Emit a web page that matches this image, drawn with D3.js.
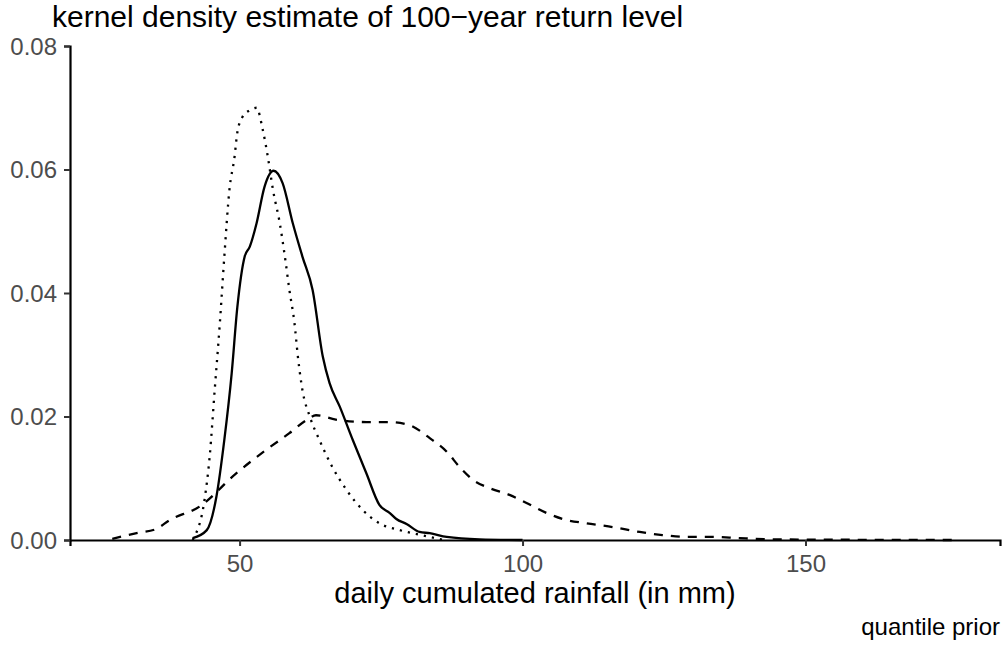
<!DOCTYPE html>
<html>
<head>
<meta charset="utf-8">
<script src="https://cdn.jsdelivr.net/npm/d3@7"></script>
<style>
  html, body { margin: 0; padding: 0; background: #fff; }
  text { font-family: "Liberation Sans", Arial, Helvetica, sans-serif; }
</style>
</head>
<body>
<svg id="chart" width="1006" height="650"></svg>
<script>
// Kernel density estimates of the 100-year return level (mm), one per prior.

const solidX = [41.7, 44.2, 45.9, 47.3, 48.6, 49.6, 50.9, 51.8, 53.0, 54.4, 56.0, 57.6, 59.4, 61.1, 62.9, 64.7, 65.9, 67.7, 70.0, 72.4, 74.7, 76.5, 77.7, 79.5, 81.8, 83.6, 86.6, 92.4, 100.0];
const solidY = [0.0003, 0.0016, 0.0070, 0.0162, 0.0270, 0.0377, 0.0459, 0.0475, 0.0513, 0.0572, 0.0598, 0.0578, 0.0513, 0.0459, 0.0405, 0.0297, 0.0254, 0.0216, 0.0162, 0.0108, 0.0057, 0.0044, 0.0034, 0.0026, 0.0013, 0.0011, 0.0005, 0.0001, 0.0000];

const dottedX = [41.7, 42.0, 43.8, 44.7, 45.6, 46.5, 47.3, 48.2, 49.1, 49.6, 50.5, 51.8, 53.0, 54.1, 55.0, 55.9, 57.1, 58.0, 58.8, 59.7, 60.3, 61.1, 62.4, 64.1, 66.4, 68.9, 71.7, 74.7, 78.3, 83.6, 86.0];
const dottedY = [0.0000, 0.0005, 0.0065, 0.0134, 0.0243, 0.0350, 0.0459, 0.0567, 0.0620, 0.0660, 0.0685, 0.0696, 0.0700, 0.0664, 0.0620, 0.0567, 0.0513, 0.0459, 0.0405, 0.0351, 0.0297, 0.0243, 0.0200, 0.0162, 0.0118, 0.0081, 0.0049, 0.0027, 0.0016, 0.0005, 0.0000];

const dashedX = [27.5, 31.8, 35.3, 37.6, 42.9, 49.4, 54.7, 58.8, 61.8, 63.5, 67.0, 72.4, 76.5, 80.0, 83.6, 86.6, 88.9, 91.3, 94.2, 97.7, 100.7, 104.2, 107.1, 111.3, 115.9, 120.7, 124.7, 128.9, 133.6, 138.3, 145.0, 155.0, 165.0, 176.9];
const dashedY = [0.0002, 0.0011, 0.0018, 0.0032, 0.0054, 0.0108, 0.0146, 0.0173, 0.0194, 0.0202, 0.0195, 0.0191, 0.0191, 0.0186, 0.0165, 0.0143, 0.0118, 0.0097, 0.0084, 0.0073, 0.0060, 0.0044, 0.0034, 0.0027, 0.0021, 0.0013, 0.0008, 0.0005, 0.0005, 0.0003, 0.0001, 0.00005, 0.00002, 0.0000];

const xTicks = [50, 100, 150];
const yTicks = [0.00, 0.02, 0.04, 0.06, 0.08];

const series = [
  { name: "solid",  xs: solidX,  ys: solidY,  dash: null },
  { name: "dotted", xs: dottedX, ys: dottedY, dash: "2.2,6" },
  { name: "dashed", xs: dashedX, ys: dashedY, dash: "9,8" }
];

const svg = d3.select("#chart");
const panel = { left: 70, right: 1000, top: 46, bottom: 540 };

// x domain: data range 27.5..176.9 with 5% padding each side
const xMin = 27.5, xMax = 176.9, pad = (xMax - xMin) * 0.05;
const x = d3.scaleLinear().domain([xMin - pad, xMax + pad]).range([panel.left, panel.right]);
const y = d3.scaleLinear().domain([0, 0.08]).range([panel.bottom, panel.top]);

const line = d3.line()
  .x(d => x(d[0]))
  .y(d => y(d[1]))
  .curve(d3.curveMonotoneX);

series.forEach(s => {
  const pts = s.xs.map((v, i) => [v, s.ys[i]]);
  svg.append("path")
    .datum(pts)
    .attr("fill", "none")
    .attr("stroke", "#000")
    .attr("stroke-width", 2.3)
    .attr("stroke-linecap", "butt")
    .attr("stroke-dasharray", s.dash)
    .attr("d", line);
});

// Axes
const xAxis = svg.append("g")
  .attr("transform", `translate(0,${panel.bottom})`)
  .call(d3.axisBottom(x).tickValues(xTicks).tickFormat(d3.format("d")).tickSizeOuter(0).tickSize(6).tickPadding(9));
const yAxis = svg.append("g")
  .attr("transform", `translate(${panel.left},0)`)
  .call(d3.axisLeft(y).tickValues(yTicks).tickFormat(d3.format(".2f")).tickSizeOuter(0).tickSize(6).tickPadding(7));

[xAxis, yAxis].forEach(g => {
  g.select(".domain").attr("stroke", "#000").attr("stroke-width", 2.2);
  g.selectAll(".tick line").attr("stroke", "#333").attr("stroke-width", 2);
  g.selectAll(".tick text")
    .attr("fill", "#4d4d4d")
    .style("font-size", "24px")
    .style("font-family", "'Liberation Sans', Arial, sans-serif");
});
yAxis.selectAll(".tick text").attr("dy", "0.35em");

// Titles
svg.append("text")
  .attr("x", 52).attr("y", 27)
  .style("font-size", "30px")
  .attr("fill", "#000")
  .text("kernel density estimate of 100\u2212year return level");

svg.append("text")
  .attr("x", (panel.left + panel.right) / 2)
  .attr("y", 603)
  .attr("text-anchor", "middle")
  .style("font-size", "29px")
  .attr("fill", "#000")
  .text("daily cumulated rainfall (in mm)");

svg.append("text")
  .attr("x", 1000).attr("y", 635)
  .attr("text-anchor", "end")
  .style("font-size", "24px")
  .attr("fill", "#000")
  .text("quantile prior");
</script>
</body>
</html>
